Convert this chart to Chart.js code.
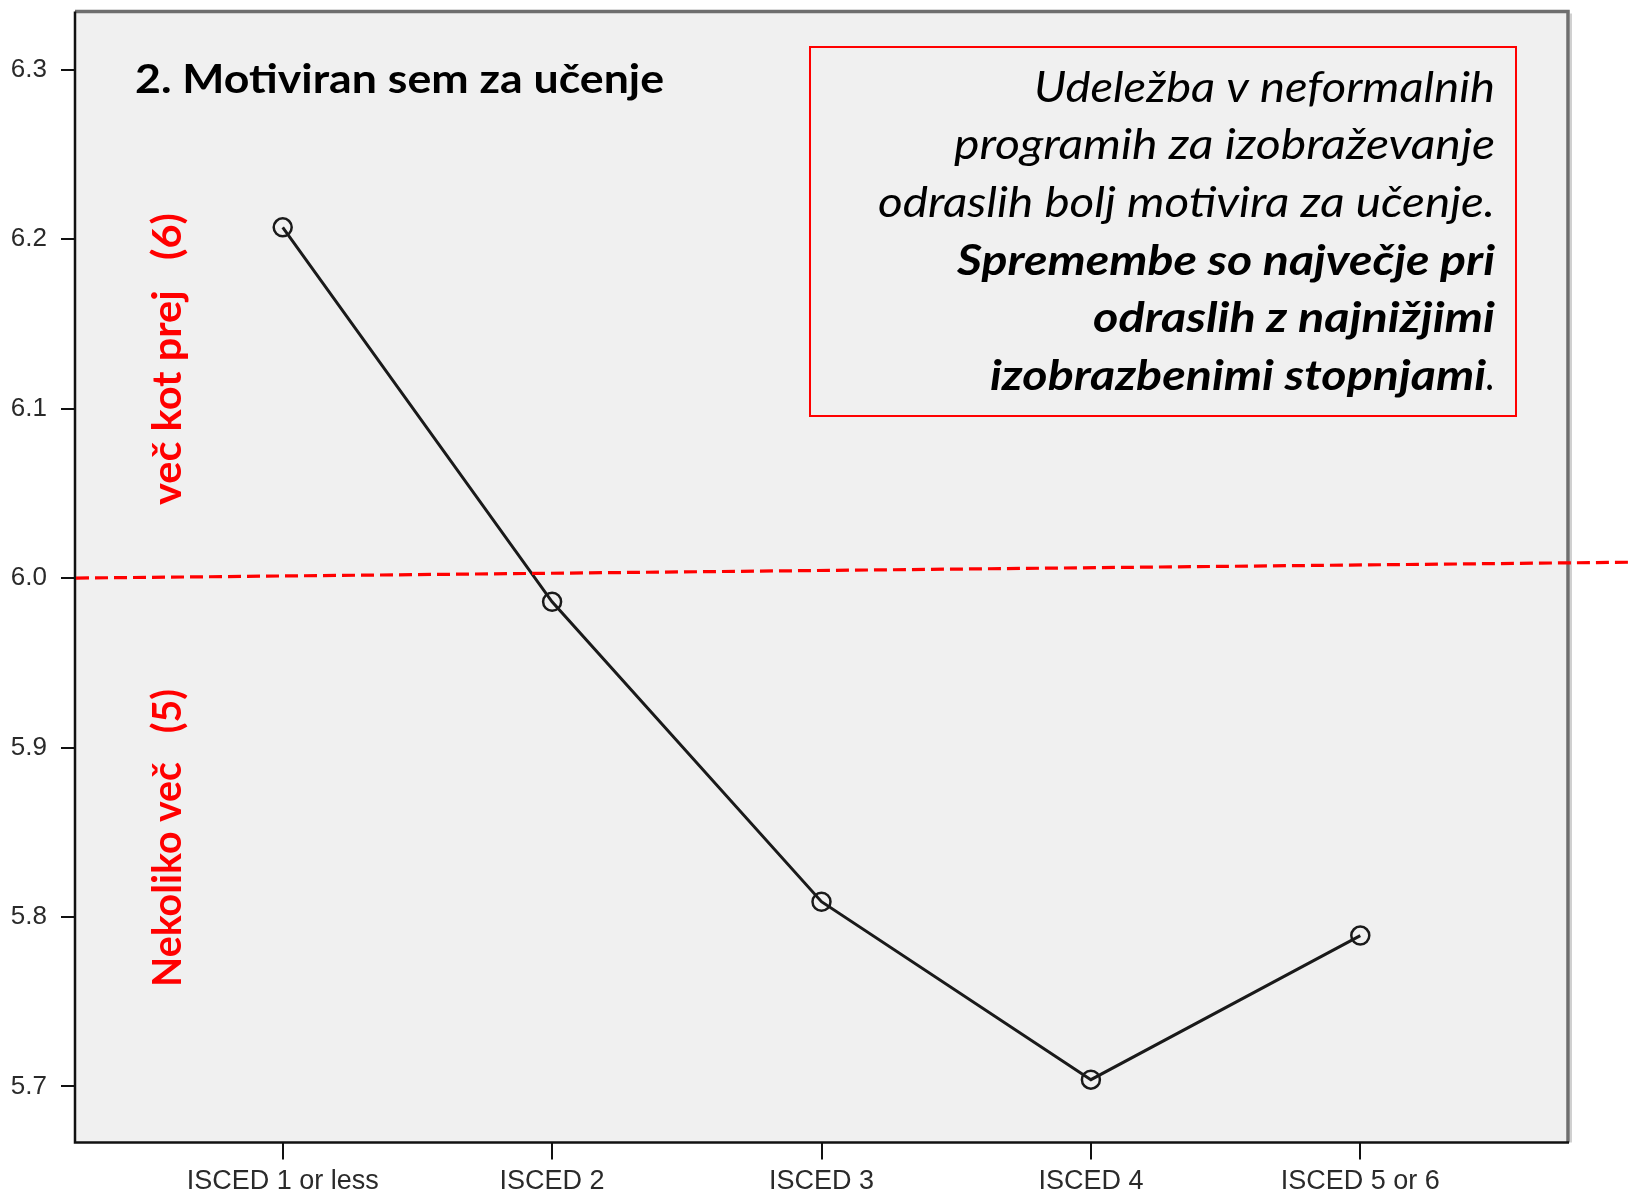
<!DOCTYPE html>
<html>
<head>
<meta charset="utf-8">
<script src="https://cdn.jsdelivr.net/npm/chart.js@4.4.1/dist/chart.umd.min.js"></script>
<style>
  html, body { margin: 0; padding: 0; background: #ffffff; }
  #wrap { width: 1633px; height: 1191px; position: relative; }
  canvas { display: block; }
</style>
</head>
<body>
<div id="wrap"><canvas id="c" width="1633" height="1191"></canvas></div>
<script>
// ---- data ----
const categories = ["ISCED 1 or less", "ISCED 2", "ISCED 3", "ISCED 4", "ISCED 5 or 6"];
const meanValues = [6.207, 5.986, 5.809, 5.704, 5.789];
const yTickValues = [5.7, 5.8, 5.9, 6.0, 6.1, 6.2, 6.3];
const titleText = "2. Motiviran sem za učenje";
const noteItalicLines = ["Udeležba v neformalnih", "programih za izobraževanje", "odraslih bolj motivira za učenje."];
const noteBoldLines = ["Spremembe so največje pri", "odraslih z najnižjimi", "izobrazbenimi stopnjami"];
const upperLabel = "več kot prej   (6)";
const lowerLabel = "Nekoliko več   (5)";
const refLineValues = [6.0, 6.0094]; // red dashed reference line: value at axis, value at right edge

const FONT = "Lato, 'Open Sans', sans-serif";
// draw text with a given font size, compressed/stretched horizontally to a given width
function drawText(ctx, text, font, x, y, width, align) {
  ctx.font = font;
  const w = ctx.measureText(text).width;
  const sx = width / w;
  ctx.save();
  ctx.translate(x, y);
  ctx.scale(sx, 1);
  ctx.textAlign = align;
  ctx.fillText(text, 0, 0);
  ctx.restore();
}

const plotDecor = {
  id: 'plotDecor',
  beforeDraw(chart) {
    const { ctx, chartArea: a } = chart;
    ctx.save();
    ctx.fillStyle = '#ffffff';
    ctx.fillRect(0, 0, chart.width, chart.height);
    ctx.fillStyle = '#f0f0f0';
    ctx.fillRect(a.left, a.top, a.right - a.left, a.bottom - a.top);
    ctx.restore();
  },
  afterDraw(chart) {
    const { ctx, chartArea: a } = chart;
    ctx.save();
    // top & right frame (grey)
    ctx.strokeStyle = '#6e6e6e';
    ctx.lineWidth = 3.5;
    ctx.beginPath();
    ctx.moveTo(a.left, a.top);
    ctx.lineTo(a.right, a.top);
    ctx.lineTo(a.right, a.bottom);
    ctx.stroke();
    ctx.strokeStyle = 'rgba(120,120,120,0.35)';
    ctx.lineWidth = 2;
    ctx.beginPath();
    ctx.moveTo(a.right + 3, a.top + 2);
    ctx.lineTo(a.right + 3, a.bottom);
    ctx.stroke();
    // left & bottom axis lines
    ctx.strokeStyle = '#111';
    ctx.lineWidth = 2.5;
    ctx.beginPath();
    ctx.moveTo(a.left, a.top);
    ctx.lineTo(a.left, a.bottom);
    ctx.lineTo(a.right + 1, a.bottom);
    ctx.stroke();

    // red dashed reference line from the y axis to the canvas edge
    const ys = chart.scales.y;
    const yL = ys.getPixelForValue(refLineValues[0]);
    const yR = ys.getPixelForValue(refLineValues[1]);
    ctx.strokeStyle = '#ff0000';
    ctx.lineWidth = 3.2;
    ctx.setLineDash([13, 6]);
    ctx.beginPath();
    ctx.moveTo(a.left + 1, yL);
    ctx.lineTo(chart.width, yR);
    ctx.stroke();
    ctx.setLineDash([]);

    ctx.textBaseline = 'alphabetic';
    // title
    ctx.fillStyle = '#000';
    drawText(ctx, titleText, '700 40px ' + FONT, 135, 93, 529, 'left');

    // note box
    ctx.strokeStyle = '#ff0000';
    ctx.lineWidth = 2;
    ctx.strokeRect(810, 47, 706, 369);
    const right = 1495;
    const base0 = 101.5, step = 57.7;
    const italicW = [461, 541, 617];
    const boldW = [538, 402, 505];
    ctx.fillStyle = '#000';
    noteItalicLines.forEach((t, i) => drawText(ctx, t, 'italic 400 42px ' + FONT, right, base0 + i * step, italicW[i], 'right'));
    noteBoldLines.forEach((t, i) => {
      const y = base0 + (i + 3) * step;
      if (i === noteBoldLines.length - 1) {
        ctx.font = 'italic 400 42px ' + FONT;
        const dw = ctx.measureText('.').width * 0.9;
        drawText(ctx, '.', ctx.font, right, y, dw, 'right');
        drawText(ctx, t, 'italic 700 42px ' + FONT, right - dw, y, boldW[i] - dw, 'right');
      } else {
        drawText(ctx, t, 'italic 700 42px ' + FONT, right, y, boldW[i], 'right');
      }
    });

    // rotated red labels
    ctx.fillStyle = '#ff0000';
    ctx.save();
    ctx.translate(181, 359);
    ctx.rotate(-Math.PI / 2);
    drawText(ctx, upperLabel, '700 40px ' + FONT, 0, 0, 292, 'center');
    ctx.restore();
    ctx.save();
    ctx.translate(181, 838);
    ctx.rotate(-Math.PI / 2);
    drawText(ctx, lowerLabel, '700 40px ' + FONT, 0, 0, 298, 'center');
    ctx.restore();

    ctx.restore();
  }
};

new Chart(document.getElementById('c'), {
  type: 'line',
  data: {
    datasets: [{
      data: meanValues.map((v, i) => ({ x: i, y: v })),
      borderColor: '#1a1a1a',
      borderWidth: 3,
      pointRadius: 9,
      pointBorderWidth: 2.5,
      pointBorderColor: '#1a1a1a',
      pointBackgroundColor: 'rgba(0,0,0,0)',
      fill: false,
      tension: 0
    }]
  },
  options: {
    responsive: false,
    animation: false,
    events: [],
    layout: { padding: { top: 10, right: 65, left: 0, bottom: 0 } },
    plugins: { legend: { display: false }, tooltip: { enabled: false }, title: { display: false } },
    scales: {
      x: {
        type: 'linear',
        min: -0.771,
        max: 4.771,
        afterBuildTicks: s => { s.ticks = categories.map((c, i) => ({ value: i })); },
        afterFit: s => { s.height = 48.5; s.paddingLeft = 0; s.paddingRight = 0; s.paddingTop = 0; s.paddingBottom = 0; },
        ticks: {
          callback: (v) => categories[v] ?? '',
          font: { family: "'Liberation Sans', Arial, sans-serif", size: 27 },
          color: '#2a2a2a',
          padding: 6,
          maxRotation: 0,
          autoSkip: false
        },
        grid: { drawOnChartArea: false, drawTicks: true, tickLength: 17, color: '#111', lineWidth: 2 },
        border: { display: false }
      },
      y: {
        type: 'linear',
        min: 5.6669,
        max: 6.3344,
        afterBuildTicks: s => { s.ticks = yTickValues.map(v => ({ value: v })); },
        afterFit: s => { s.width = 75; s.paddingTop = 0; s.paddingBottom = 0; s.paddingLeft = 0; s.paddingRight = 0; },
        ticks: {
          callback: (v) => Number(v).toFixed(1),
          font: { family: "'Liberation Sans', Arial, sans-serif", size: 26 },
          color: '#2a2a2a',
          padding: 14
        },
        grid: { drawOnChartArea: false, drawTicks: true, tickLength: 14, color: '#111', lineWidth: 2 },
        border: { display: false }
      }
    }
  },
  plugins: [plotDecor]
});
</script>
</body>
</html>
